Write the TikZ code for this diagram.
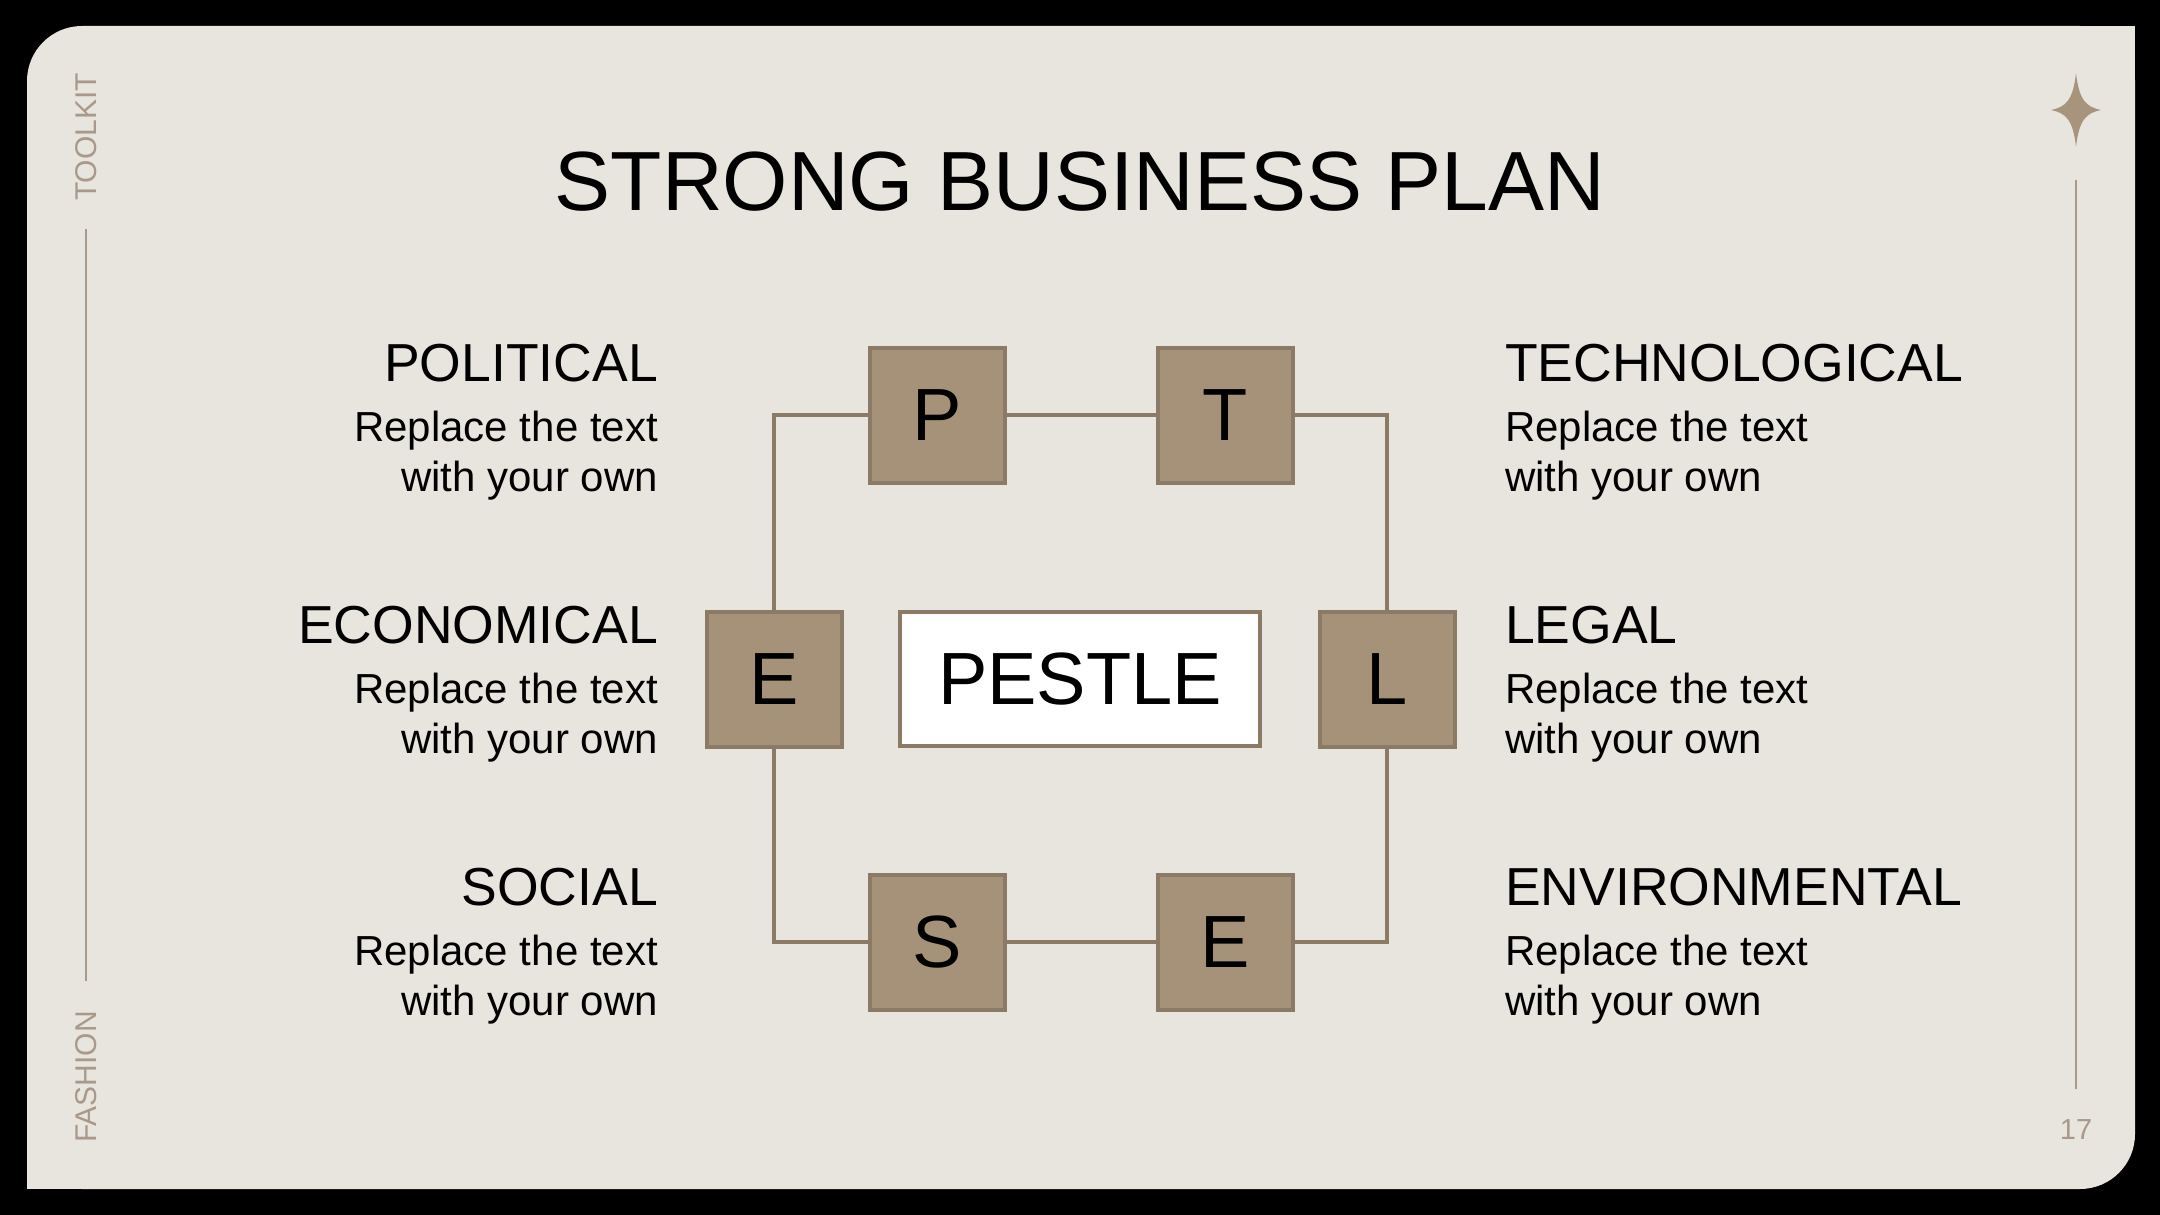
\documentclass[tikz,border=0pt]{standalone}
\usepackage{fontspec}
\setmainfont{Liberation Sans}
\definecolor{panel}{HTML}{E8E5DF}
\definecolor{boxfill}{HTML}{A69279}
\definecolor{boxline}{HTML}{8A7A66}
\definecolor{accent}{HTML}{A9998A}
\definecolor{startone}{HTML}{A8947C}
\begin{document}
\begin{tikzpicture}[x=1pt,y=-1pt,
  letterbox/.style={draw=boxline, fill=boxfill, line width=4pt, minimum width=135pt, minimum height=135pt, inner sep=0pt, font=\fontsize{74}{80}\selectfont, text=black},
  centerbox/.style={draw=boxline, fill=white, line width=4pt, minimum width=360pt, minimum height=134pt, inner sep=0pt, font=\fontsize{74}{80}\selectfont, text=black},
  link/.style={draw=boxline, line width=4pt},
  head/.style={inner sep=0pt, font=\fontsize{53.5}{60}\selectfont, text=black},
  body/.style={inner sep=0pt, font=\fontsize{42}{48}\selectfont, text=black},
  side/.style={inner sep=0pt, text=accent, font=\fontsize{30}{34}\selectfont},
  deco/.style={draw=accent, line width=2.5pt}]
\useasboundingbox (0,0) rectangle (2160,1215);
\fill[black] (0,0) rectangle (2160,1215);
\fill[panel, rounded corners=55pt] (27,26) rectangle (2135,1189);
\fill[panel] (1900,26) rectangle (2135,300);
\fill[panel] (27,900) rectangle (300,1189);

% side decorations
\node[side, rotate=90] (toolkit) at (86,137) {TOOLKIT};
\node[side, rotate=90] (fashion) at (86,1077) {FASHION};
\coordinate (ltop) at (86,229);
\coordinate (lbot) at (86,981);
\draw[deco] (ltop) -- (lbot);
\coordinate (rtop) at (2076,180);
\coordinate (rbot) at (2076,1089);
\draw[deco] (rtop) -- (rbot);
\node[side, font=\fontsize{29}{32}\selectfont] (pagenum) at (2076,1130) {17};
\fill[startone] (2076,73) .. controls (2079,100) and (2086,107) .. (2101,110)
  .. controls (2086,113) and (2079,120) .. (2076,147)
  .. controls (2073,120) and (2066,113) .. (2051,110)
  .. controls (2066,107) and (2073,100) .. (2076,73) -- cycle;

% title
\node[inner sep=0pt, anchor=base, font=\fontsize{84}{90}\selectfont] (title) at (1080,210) {STRONG BUSINESS PLAN};

% boxes
\node[letterbox] (P) at (937,415) {P};
\node[letterbox] (T) at (1225,415) {T};
\node[letterbox] (E1) at (774,679) {E};
\node[letterbox] (L) at (1387,679) {L};
\node[letterbox] (S) at (937,942) {S};
\node[letterbox] (E2) at (1225,942) {E};
\node[centerbox] (pestle) at (1080,679) {PESTLE};

% connectors
\draw[link] (P.west) -| (E1.north);
\draw[link] (E1.south) |- (S.west);
\draw[link] (P.east) -- (T.west);
\draw[link] (T.east) -| (L.north);
\draw[link] (L.south) |- (E2.east);
\draw[link] (S.east) -- (E2.west);

% left texts
\node[head, anchor=base east] (polh) at (658,381) {POLITICAL};
\node[body, anchor=base east] (pol1) at (658,441) {Replace the text};
\node[body, anchor=base east] (pol2) at (658,491) {with your own};
\node[head, anchor=base east] (ecoh) at (658,643) {ECONOMICAL};
\node[body, anchor=base east] (eco1) at (658,703) {Replace the text};
\node[body, anchor=base east] (eco2) at (658,753) {with your own};
\node[head, anchor=base east] (soch) at (658,905) {SOCIAL};
\node[body, anchor=base east] (soc1) at (658,965) {Replace the text};
\node[body, anchor=base east] (soc2) at (658,1015) {with your own};

% right texts
\node[head, anchor=base west] (tech) at (1505,381) {TECHNOLOGICAL};
\node[body, anchor=base west] (tec1) at (1505,441) {Replace the text};
\node[body, anchor=base west] (tec2) at (1505,491) {with your own};
\node[head, anchor=base west] (legh) at (1505,643) {LEGAL};
\node[body, anchor=base west] (leg1) at (1505,703) {Replace the text};
\node[body, anchor=base west] (leg2) at (1505,753) {with your own};
\node[head, anchor=base west] (envh) at (1505,905) {ENVIRONMENTAL};
\node[body, anchor=base west] (env1) at (1505,965) {Replace the text};
\node[body, anchor=base west] (env2) at (1505,1015) {with your own};
\end{tikzpicture}
\end{document}
